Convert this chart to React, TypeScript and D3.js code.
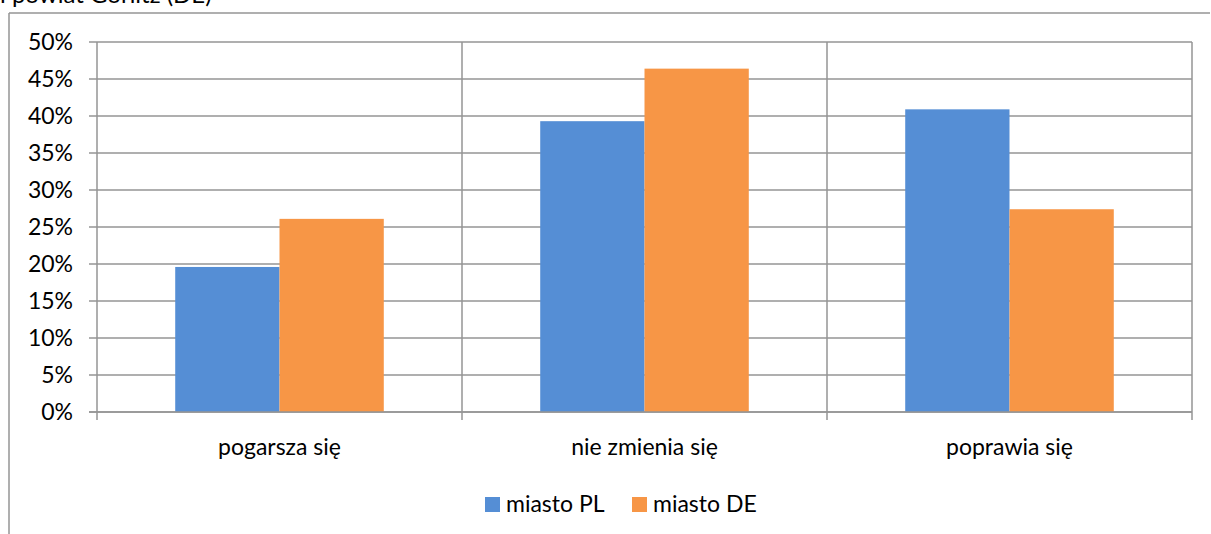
import React from "react";
import * as d3 from "d3";

const categories = ["pogarsza się", "nie zmienia się", "poprawia się"];
const seriesNames = ["miasto PL", "miasto DE"];
const miastoPL = [19.6, 39.3, 40.9];
const miastoDE = [26.1, 46.4, 27.4];
const yTicks = [0, 5, 10, 15, 20, 25, 30, 35, 40, 45, 50];
const colors = ["#558ED5", "#F79646"];

const W = 1211;
const H = 534;
const FONT = "Lato, 'Open Sans', sans-serif";
const FS = 23;

export default function App() {
  const left = 97, right = 1192, top = 42, bottom = 412;
  const x = d3.scaleBand<string>().domain(categories).range([left, right]).paddingInner(0).paddingOuter(0);
  const y = d3.scaleLinear().domain([0, 50]).range([bottom, top]);
  const bw = x.bandwidth();
  const barW = bw / 3.5;
  const series = [miastoPL, miastoDE];
  const grid = "#949494";
  const legendX = [485, 632];

  return (
    <svg width={W} height={H} style={{ position: "absolute", left: 0, top: 0, background: "#fff" }}>
      <rect x={0} y={0} width={W} height={H} fill="#fff" />
      <text x={0} y={3} fontFamily={FONT} fontSize={24} fill="#000">i powiat Görlitz (DE)</text>
      {/* outer frame */}
      <line x1={9} y1={13} x2={1210} y2={13} stroke={grid} strokeWidth={1.5} />
      <line x1={9} y1={13} x2={9} y2={H} stroke={grid} strokeWidth={1.5} />
      {/* horizontal gridlines */}
      {yTicks.map((t) => (
        <g key={t}>
          <line x1={left - 8} x2={right} y1={y(t)} y2={y(t)} stroke={grid} strokeWidth={1.5} />
          <text x={73} y={y(t)} dy="0.35em" textAnchor="end" fontFamily={FONT} fontSize={FS} fill="#000">{t}%</text>
        </g>
      ))}
      {/* vertical gridlines / category ticks */}
      {[...categories.map((c) => x(c)!), right].map((xv, i) => (
        <line key={i} x1={xv} x2={xv} y1={top} y2={bottom + 8} stroke={grid} strokeWidth={1.5} />
      ))}
      {/* bars */}
      {categories.map((c, ci) => (
        <g key={c}>
          {series.map((s, si) => {
            const x0 = x(c)! + bw / 2 - barW + si * barW;
            return <rect key={si} x={x0} y={y(s[ci])} width={barW} height={y(0) - y(s[ci])} fill={colors[si]} />;
          })}
          <text x={x(c)! + bw / 2} y={447} dy="0.35em" textAnchor="middle" fontFamily={FONT} fontSize={FS} fill="#000">{c}</text>
        </g>
      ))}
      {/* baseline redraw */}
      <line x1={left - 8} x2={right} y1={bottom} y2={bottom} stroke={grid} strokeWidth={1.5} />
      {/* legend */}
      {seriesNames.map((n, i) => {
        const lx = legendX[i];
        return (
          <g key={n}>
            <rect x={lx} y={497} width={15} height={15} fill={colors[i]} />
            <text x={lx + 21} y={504} dy="0.35em" fontFamily={FONT} fontSize={FS} fill="#000">{n}</text>
          </g>
        );
      })}
    </svg>
  );
}
